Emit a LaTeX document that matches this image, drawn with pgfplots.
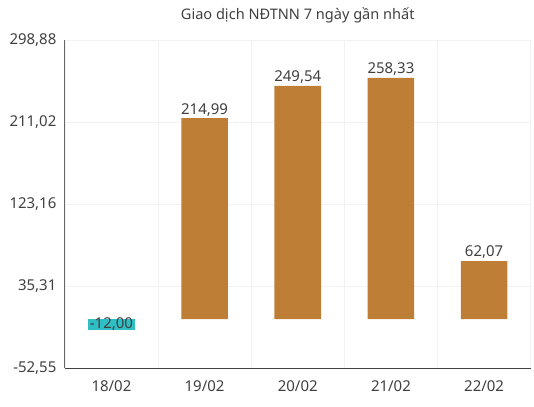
\documentclass[border=0pt]{standalone}
\usepackage{pgfplots}
\pgfplotsset{compat=1.18}
\usepackage{fontspec}
\setmainfont{Noto Sans}
\definecolor{brn}{HTML}{BF7E36}
\definecolor{tl}{HTML}{2EBEC4}
\definecolor{txt}{HTML}{404040}
\begin{document}
\begin{tikzpicture}
\begin{axis}[name=ax,
  scale only axis, width=467pt, height=329pt,
  xmin=-0.5, xmax=4.5, ymin=-52.55, ymax=298.88,
  /pgf/number format/assume math mode=true,
  ybar, bar width=0.5, bar shift=0pt,
  xtick={0,1,2,3,4},
  xticklabels={18/02,19/02,20/02,21/02,22/02},
  major x tick style={draw=none},
  extra x ticks={-0.5,0.5,1.5,2.5,3.5,4.5},
  extra x tick labels={},
  extra x tick style={grid=major, tick style={draw=txt, line width=0.9pt}, major tick length=6pt, tick pos=left, tick align=outside},
  ytick={-52.55,35.31,123.16,211.02,298.88},
  yticklabels={{-52,55},{35,31},{123,16},{211,02},{298,88}},
  ymajorgrids, major grid style={draw=gray!10, line width=0.6pt},
  major y tick style={draw=none},
  axis x line*=bottom, axis y line*=left,
  x axis line style={draw=txt, line width=1pt, -},
  y axis line style={draw=gray!80!black, line width=1pt, -},
  tick label style={font=\fontsize{15}{17}\selectfont, text=txt},
  yticklabel style={xshift=-5pt},
  xticklabel style={yshift=-5pt},
  title={Giao dịch NĐTNN 7 ngày gần nhất},
  title style={font=\fontsize{14.6}{17}\selectfont, text=txt, yshift=7pt},
  nodes near coords style={font=\fontsize{15}{17}\selectfont, text=txt},
  clip=false,
]
\addplot[fill=tl, draw=none, nodes near coords={-12,00}, nodes near coords style={anchor=south, inner sep=0pt}] coordinates {(0,-12.00)};
\addplot[fill=brn, draw=none, nodes near coords={\pgfmathprintnumber[fixed, fixed zerofill, precision=2, use comma, assume math mode=true]{\pgfplotspointmeta}}, nodes near coords style={anchor=south, inner sep=2pt}] coordinates {(1,214.99) (2,249.54) (3,258.33) (4,62.07)};
\end{axis}
\path ([shift={(-65pt,-39pt)}]ax.south west) rectangle ([shift={(2pt,40pt)}]ax.north east);
\end{tikzpicture}
\end{document}
